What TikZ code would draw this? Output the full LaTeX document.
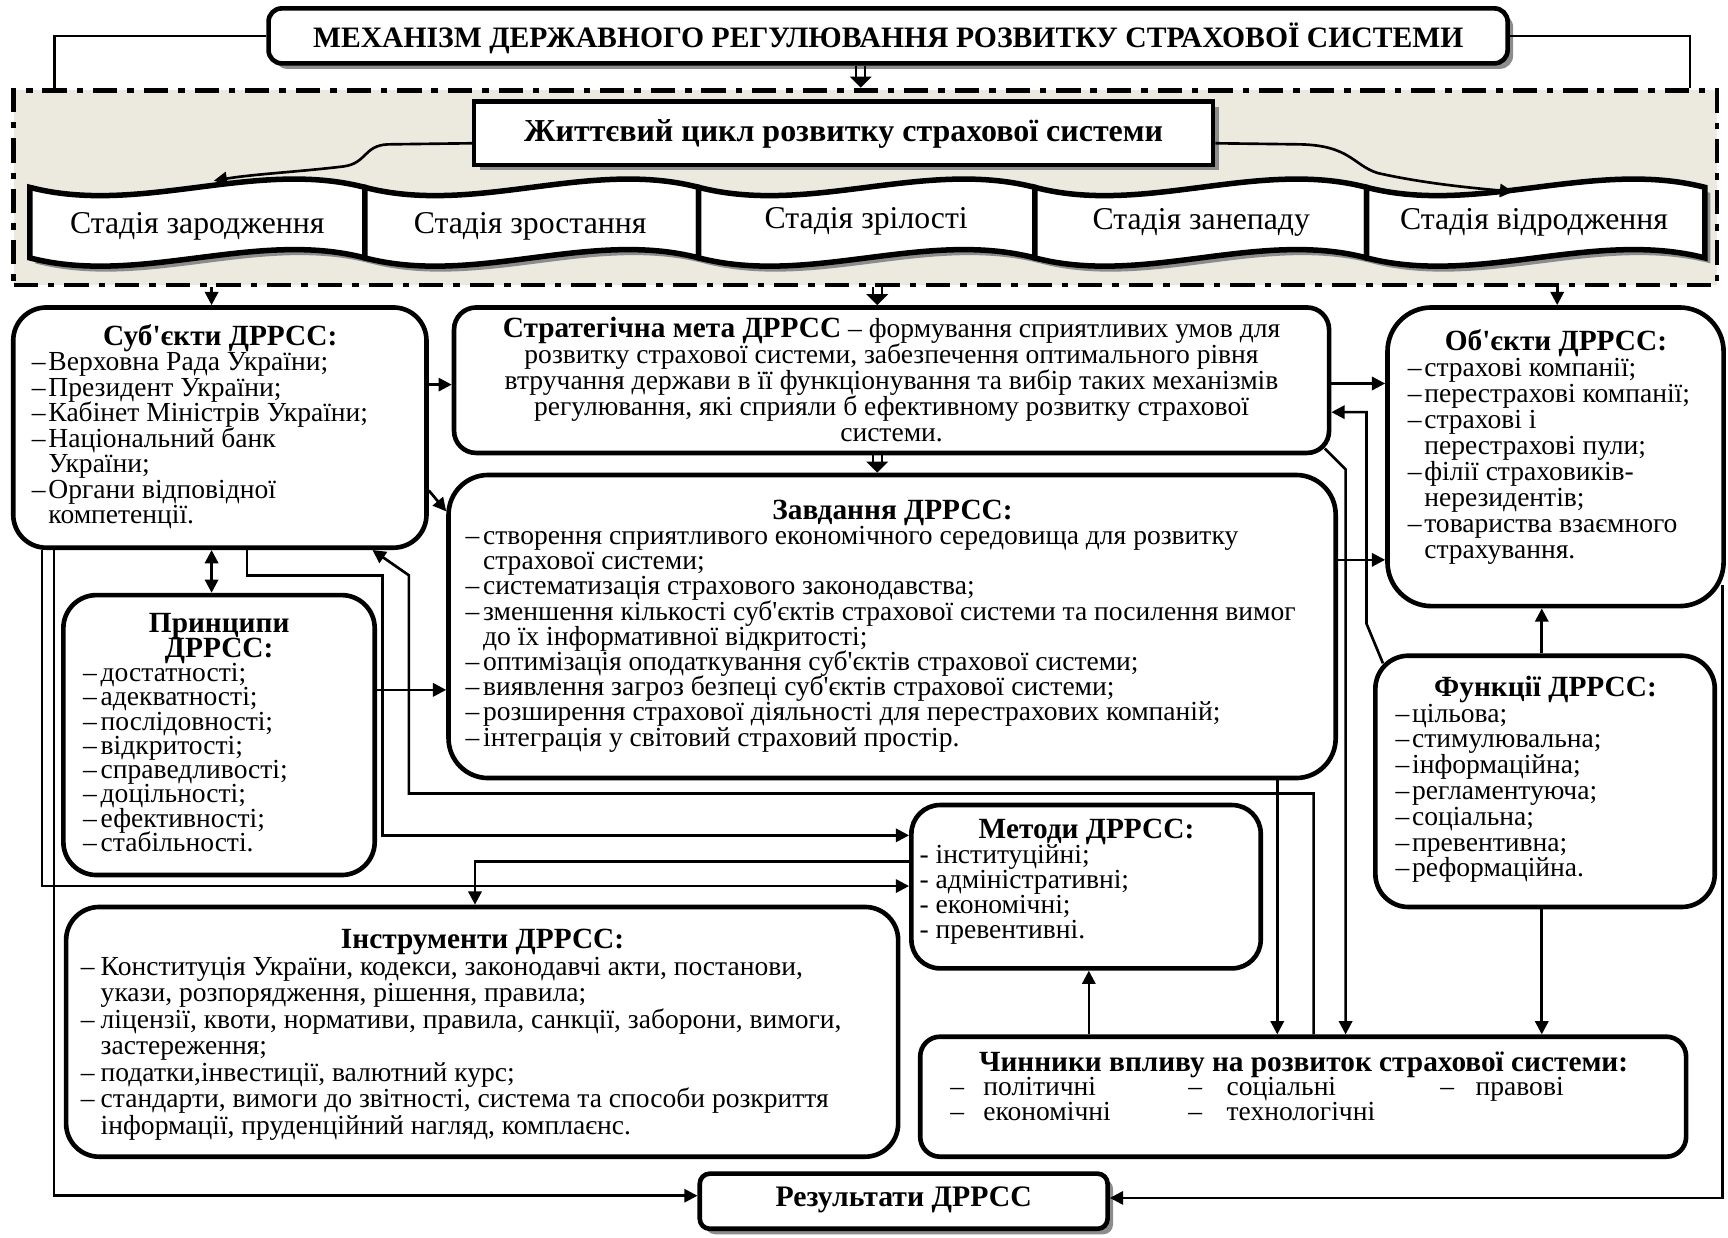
\documentclass[tikz,border=0pt]{standalone}
\usepackage{fontspec}
\setmainfont{Liberation Serif}[Ligatures=TeXOff]
\usetikzlibrary{arrows.meta,shadows,calc,fit}
\definecolor{framefill}{RGB}{236,233,222}
\definecolor{shadowc}{RGB}{140,140,140}
\newcommand\dsh[1][7.5pt]{\makebox[#1][l]{–}}
\newcommand\ind[1][7.5pt]{\hspace*{#1}}
\newcommand\tight{\lineskiplimit=-100pt\lineskip=0pt}
\newcommand\lst[1]{\par\raggedright\leftskip=#1\relax\parindent=0pt}
\newcommand\hd[1]{{\centering\fontsize{13.3pt}{11.4pt}\selectfont\bfseries #1\par}}
\newcommand\dblarr[2]{%
  \draw[line width=1pt] ($(#1)+(-4,0)$) -- ($(#2)+(-4,-9)$);
  \draw[line width=1pt] ($(#1)+(4,0)$) -- ($(#2)+(4,-9)$);
  \fill ($(#2)+(-10,-10)$) -- ($(#2)+(10,-10)$) -- (#2) -- cycle;}
\begin{document}
\begin{tikzpicture}[x=0.5pt,y=-0.5pt,
  rbox/.style={draw, line width=2.1pt, fill=white, rounded corners=#1, inner sep=0pt},
  rbox/.default=15pt,
  sbox/.style={draw, line width=2.1pt, fill=white, inner sep=0pt, rounded corners=#1,
     drop shadow={shadow xshift=2.5pt, shadow yshift=-2.5pt, fill=shadowc, opacity=1}},
  sbox/.default=0pt,
  banner/.style={draw, line width=2.5pt, fill=white,
     drop shadow={shadow xshift=2.5pt, shadow yshift=-2.5pt, fill=shadowc, opacity=1}},
  conn/.style={line width=1.2pt},
  arr/.style={conn, -{Triangle[length=6pt,width=6pt]}},
  darr/.style={conn, {Triangle[length=6pt,width=6pt]}-{Triangle[length=6pt,width=6pt]}},
  txt/.style={inner sep=0pt, anchor=north west},
  ctxt/.style={inner sep=0pt}]
\useasboundingbox (0,0) rectangle (1568,1123);

% frame
\node[fit={(12.4,81.7) (1558,258.6)}, inner sep=0pt, draw, fill=framefill, line width=2.25pt,
  dash pattern=on 11pt off 4.5pt on 3pt off 4.5pt] (frame) {};

% title
\node[sbox=6pt, fit={(243.7,7.6) (1368,57.5)}] (title) {};
\node[ctxt] (titleT) at (806,35) {\fontsize{13.45pt}{14pt}\selectfont\bfseries МЕХАНІЗМ ДЕРЖАВНОГО РЕГУЛЮВАННЯ РОЗВИТКУ СТРАХОВОЇ СИСТЕМИ};

% life cycle
\node[sbox, fit={(430.2,92.3) (1100.7,149.7)}] (life) {};
\node[ctxt] (lifeT) at (765.5,122) {\fontsize{14.5pt}{14pt}\selectfont\bfseries Життєвий цикл розвитку страхової системи};

% banners
\path[banner] (27,170) .. controls (127,196) and (231,144) .. (331,170) -- (331,234) .. controls (231,208) and (127,260) .. (27,234) -- cycle;
\path[banner] (331,170) .. controls (431,196) and (534,144) .. (634,170) -- (634,234) .. controls (534,208) and (431,260) .. (331,234) -- cycle;
\path[banner] (634,170) .. controls (735,196) and (838,144) .. (939,170) -- (939,234) .. controls (838,208) and (735,260) .. (634,234) -- cycle;
\path[banner] (939,170) .. controls (1038,196) and (1141,144) .. (1240,170) -- (1240,234) .. controls (1141,208) and (1038,260) .. (939,234) -- cycle;
\path[banner] (1240,170) .. controls (1341,196) and (1446,144) .. (1547,170) -- (1547,234) .. controls (1446,208) and (1341,260) .. (1240,234) -- cycle;
\node[ctxt] (st1) at (179,205) {\fontsize{14.4pt}{14pt}\selectfont Стадія зародження};
\node[ctxt] (st2) at (481,205) {\fontsize{14.4pt}{14pt}\selectfont Стадія зростання};
\node[ctxt] (st3) at (786,201) {\fontsize{14.4pt}{14pt}\selectfont Стадія зрілості};
\node[ctxt] (st4) at (1090,202) {\fontsize{14.4pt}{14pt}\selectfont Стадія занепаду};
\node[ctxt] (st5) at (1392,202) {\fontsize{14.4pt}{14pt}\selectfont Стадія відродження};
\coordinate (b1) at (194,164);
\coordinate (b5) at (1373,174);

% boxes
\node[rbox=15pt, fit={(12,279) (387,497)}] (subj) {};
\node[rbox=10pt, fit={(412,279) (1206,411)}] (strat) {};
\node[rbox=18pt, fit={(407,431) (1212,706)}] (zavd) {};
\node[rbox=20pt, fit={(1259,279) (1564,550)}] (obj) {};
\node[rbox=15pt, fit={(57.5,540) (340,794)}] (princ) {};
\node[rbox=15pt, fit={(1248,595) (1556,823)}] (func) {};
\node[rbox=13pt, fit={(827,730.5) (1144,878.7)}] (metod) {};
\node[rbox=15pt, fit={(60,823) (815,1049.6)}] (instr) {};
\node[rbox=9pt, fit={(835,940.7) (1530,1049.6)}] (chyn) {};
\node[sbox=4.5pt, fit={(635,1065) (1005,1115)}] (rez) {};

% texts
\node[txt] (subjT) at (12,294) {\parbox[t]{187.5pt}{\tight\fontsize{12.5pt}{11.55pt}\selectfont
\hd{Суб'єкти ДРРСС:}\lst{8.3pt}%
\dsh Верховна Рада України;\\
\dsh Президент України;\\
\dsh Кабінет Міністрів України;\\
\dsh Національний банк\\
\ind України;\\
\dsh Органи відповідної\\
\ind компетенції.}};

\node[ctxt, anchor=north] (stratT) at (809,287) {\parbox[t]{396pt}{\tight\fontsize{12.5pt}{11.9pt}\selectfont\centering
{\fontsize{13.3pt}{11.9pt}\selectfont\bfseries Стратегічна мета ДРРСС} – формування сприятливих умов для\\
розвитку страхової системи, забезпечення оптимального рівня\\
втручання держави в її функціонування та вибір таких механізмів\\
регулювання, які сприяли б ефективному розвитку страхової\\
системи.}};

\node[txt] (zavdT) at (407,453) {\parbox[t]{402.5pt}{\tight\fontsize{12.5pt}{11.45pt}\selectfont
\hd{Завдання ДРРСС:}\lst{7.5pt}%
\dsh[8pt]створення сприятливого економічного середовища для розвитку\\
\ind[8pt]страхової системи;\\
\dsh[8pt]систематизація страхового законодавства;\\
\dsh[8pt]зменшення кількості суб'єктів страхової системи та посилення вимог\\
\ind[8pt]до їх інформативної відкритості;\\
\dsh[8pt]оптимізація оподаткування суб'єктів страхової системи;\\
\dsh[8pt]виявлення загроз безпеці суб'єктів страхової системи;\\
\dsh[8pt]розширення страхової діяльності для перестрахових компаній;\\
\dsh[8pt]інтеграція у світовий страховий простір.}};

\node[txt] (objT) at (1259,298.5) {\parbox[t]{152.5pt}{\tight\fontsize{12.5pt}{11.8pt}\selectfont
\hd{Об'єкти ДРРСС:}\lst{9pt}%
\dsh страхові компанії;\\
\dsh перестрахові компанії;\\
\dsh страхові і\\
\ind перестрахові пули;\\
\dsh філії страховиків-\\
\ind нерезидентів;\\
\dsh товариства взаємного\\
\ind страхування.}};

\node[txt] (princT) at (57.5,556) {\parbox[t]{141pt}{\tight\fontsize{12.5pt}{11pt}\selectfont
\hd{Принципи\\ДРРСС:}\lst{8.75pt}%
\dsh[8pt]достатності;\\
\dsh[8pt]адекватності;\\
\dsh[8pt]послідовності;\\
\dsh[8pt]відкритості;\\
\dsh[8pt]справедливості;\\
\dsh[8pt]доцільності;\\
\dsh[8pt]ефективності;\\
\dsh[8pt]стабільності.}};

\node[txt] (funcT) at (1248,613) {\parbox[t]{154pt}{\tight\fontsize{12.5pt}{11.7pt}\selectfont
\hd{Функції ДРРСС:}\lst{9pt}%
\dsh цільова;\\
\dsh стимулювальна;\\
\dsh інформаційна;\\
\dsh регламентуюча;\\
\dsh соціальна;\\
\dsh превентивна;\\
\dsh реформаційна.}};

\node[txt] (metodT) at (827,743) {\parbox[t]{158.5pt}{\tight\fontsize{12.5pt}{11.35pt}\selectfont
\hd{Методи ДРРСС:}\lst{3.5pt}%
- інституційні;\\
- адміністративні;\\
- економічні;\\
- превентивні.}};

\node[txt] (instrT) at (60,843) {\parbox[t]{377.5pt}{\tight\fontsize{12.5pt}{12pt}\selectfont
\hd{Інструменти ДРРСС:}\lst{6.5pt}%
\dsh[9pt]Конституція України, кодекси, законодавчі акти, постанови,\\
\ind[9pt]укази, розпорядження, рішення, правила;\\
\dsh[9pt]ліцензії, квоти, нормативи, правила, санкції, заборони, вимоги,\\
\ind[9pt]застереження;\\
\dsh[9pt]податки,інвестиції, валютний курс;\\
\dsh[9pt]стандарти, вимоги до звітності, система та способи розкриття\\
\ind[9pt]інформації, пруденційний нагляд, комплаєнс.}};

\node[txt] (chynT) at (835,954) {\parbox[t]{347.5pt}{\tight\fontsize{12.5pt}{11.1pt}\selectfont
\hd{Чинники впливу на розвиток страхової системи:}\lst{13.5pt}%
\makebox[15pt][l]{–}\makebox[93pt][l]{політичні}\makebox[17.3pt][l]{–}\makebox[97pt][l]{соціальні}\makebox[16pt][l]{–}правові\\
\makebox[15pt][l]{–}\makebox[93pt][l]{економічні}\makebox[17.3pt][l]{–}технологічні}};

\node[ctxt] (rezT) at (820,1089) {\fontsize{13.5pt}{13pt}\selectfont\bfseries Результати ДРРСС};

% connectors
\draw[conn] (title.west) -| (frame.north -| 49.7,0);
\draw[conn] (title.east) -| (frame.north -| 1533.6,0);
\coordinate (da1) at (title.south -| 781,0);
\coordinate (db1) at (frame.north -| 781,0);
\dblarr{da1}{db1}
\coordinate (da2) at (frame.south -| 796,0);
\coordinate (db2) at (strat.north -| 796,0);
\dblarr{da2}{db2}
\coordinate (da3) at (strat.south -| 796,0);
\coordinate (db3) at (zavd.north -| 796,0);
\dblarr{da3}{db3}

\draw[arr] (life.west |- 0,130) -- (352,131) .. controls (330,132) and (333,148) .. (312,151) .. controls (270,156) and (230,158) .. (b1);
\draw[arr] (life.east |- 0,130) -- (1180,131) .. controls (1225,132) and (1228,150) .. (1250,157) .. controls (1290,166) and (1330,170) .. (b5);

\draw[arr] (frame.south -| 192,0) -- (subj.north -| 192,0);
\draw[arr] (frame.south -| 1413,0) -- (obj.north -| 1413,0);
\draw[arr] (subj.east |- 0,349) -- (strat.west |- 0,349);
\draw[arr] (subj.east |- 0,445) -- (zavd.west |- 0,464);
\draw[darr] (subj.south -| 192,0) -- (princ.north -| 192,0);
\draw[arr] (subj.south -| 224,0) |- (347,522) |- (metod.west |- 0,758);
\draw[arr] (chyn.north -| 1192,0) |- (371,720) -- (371,522) -- (subj.south -| 338,0);
\draw[arr] (subj.south -| 38,0) |- (metod.west |- 0,804);
\draw[arr] (subj.south -| 49,0) |- (rez.west |- 0,1085);
\draw[arr] (princ.east |- 0,626) -- (zavd.west |- 0,626);
\draw[arr] (metod.west |- 0,782) -| (instr.north -| 431,0);
\draw[arr] (strat.east |- 0,348) -- (obj.west |- 0,348);
\draw[arr] ($(func.north west)+(9,9)$) -- (1240,566) -- (1240,374) -- (strat.east |- 0,374);
\draw[arr] ($(strat.south east)+(-6,-6)$) -- (1221,426) -- (chyn.north -| 1221,0);
\draw[arr] (zavd.east |- 0,508) -- (obj.west |- 0,508);
\draw[arr] (zavd.south -| 1159,0) -- (chyn.north -| 1159,0);
\draw[arr] (func.north -| 1399,0) -- (obj.south -| 1399,0);
\draw[arr] (func.south -| 1399,0) -- (chyn.north -| 1399,0);
\draw[arr] (chyn.north -| 988,0) -- (metod.south -| 988,0);
\draw[arr] ($(obj.south east)+(-3,-21)$) |- (rez.east |- 0,1087);
\end{tikzpicture}
\end{document}
